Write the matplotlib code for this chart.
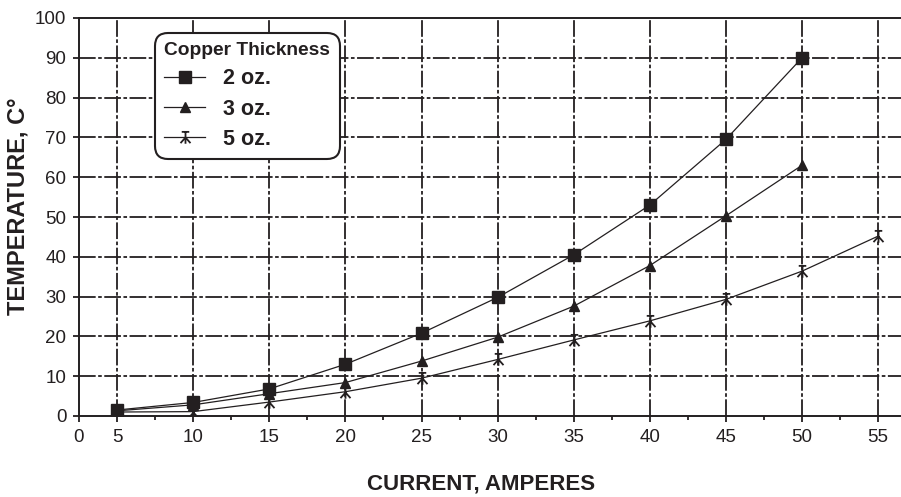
import matplotlib
matplotlib.use("Agg")
import matplotlib.pyplot as plt
from matplotlib.path import Path
import numpy as np

plt.rcParams['font.family'] = ['Liberation Sans', 'DejaVu Sans']
plt.rcParams['lines.scale_dashes'] = False

# Data
current = [5, 10, 15, 20, 25, 30, 35, 40, 45, 50, 55]
temp_2oz = [1.5, 3.4, 6.8, 13.0, 20.8, 29.8, 40.5, 53.0, 69.5, 90.0]
temp_3oz = [1.3, 2.8, 5.6, 8.4, 13.8, 19.8, 27.6, 37.8, 50.3, 63.0]
temp_5oz = [1.0, 1.1, 3.5, 6.1, 9.5, 14.2, 19.1, 23.9, 29.3, 36.4, 45.2]
series_labels = ["2 oz.", "3 oz.", "5 oz."]
legend_title = "Copper Thickness"
x_tick_vals = [2.5, 5, 10, 15, 20, 25, 30, 35, 40, 45, 50, 55]
x_tick_labels = ["0", "5", "10", "15", "20", "25", "30", "35", "40", "45", "50", "55"]
y_tick_vals = [0, 10, 20, 30, 40, 50, 60, 70, 80, 90, 100]
xlabel = "CURRENT, AMPERES"
ylabel = "TEMPERATURE, C°"

W, H = 901, 497
fig = plt.figure(figsize=(W / 100, H / 100), dpi=100)
ax = fig.add_axes([79 / W, 1 - 416 / H, (W - 79) / W, (416 - 18) / H])

ink = '#231f20'

# custom marker for 5 oz (bar on top, stem, legs)
star_verts = [(-0.6, 0.9), (0.6, 0.9), (0, 0.9), (0, -1.0), (0, 0), (-0.8, -0.9), (0, 0), (0.8, -0.9)]
star_codes = [Path.MOVETO, Path.LINETO, Path.MOVETO, Path.LINETO, Path.MOVETO, Path.LINETO, Path.MOVETO, Path.LINETO]
star_marker = Path(star_verts, star_codes)

ax.plot(current[:len(temp_2oz)], temp_2oz, color=ink, lw=0.9, marker='s', ms=8,
        mfc=ink, mec=ink, label=series_labels[0], zorder=5)
ax.plot(current[:len(temp_3oz)], temp_3oz, color=ink, lw=0.9, marker='^', ms=7.5,
        mfc=ink, mec=ink, label=series_labels[1], zorder=5)
ax.plot(current[:len(temp_5oz)], temp_5oz, color=ink, lw=0.9, marker=star_marker, ms=9,
        mfc='none', mec=ink, mew=1.3, label=series_labels[2], zorder=5)

ax.set_xlim(2.5, 56.5)
ax.set_ylim(0, 100)

ax.set_xticks(x_tick_vals)
ax.set_xticklabels(x_tick_labels)
ax.set_xticks([7.5 + 5 * i for i in range(10)], minor=True)
ax.set_yticks(y_tick_vals)

ax.tick_params(axis='both', which='major', labelsize=13.5, colors=ink, direction='out',
               length=4, width=1.3, pad=5)
ax.tick_params(axis='x', which='minor', direction='out', length=3, width=1.3, colors=ink)

for s in ['left', 'bottom', 'top']:
    ax.spines[s].set_color(ink)
    ax.spines[s].set_linewidth(1.4)
ax.spines['right'].set_visible(False)

dash = (0, (12, 1.8, 2.6, 1.8))
for x in x_tick_vals[1:]:
    ax.axvline(x, color=ink, lw=1.3, linestyle=dash, zorder=1)
for y in y_tick_vals[1:-1]:
    ax.axhline(y, color=ink, lw=1.3, linestyle=dash, zorder=1)

fig.text(18 / W, 1 - 206 / H, ylabel, rotation=90, ha='center', va='center',
         fontsize=17, fontweight='bold', color=ink)
fig.text(481 / W, 1 - 484 / H, xlabel, ha='center', va='center',
         fontsize=16, fontweight='bold', color=ink)

leg = ax.legend(loc='upper left', bbox_to_anchor=(158 / W, 1 - 36 / H),
                bbox_transform=fig.transFigure, title=legend_title,
                prop={'weight': 'bold', 'size': 15.5},
                title_fontproperties={'weight': 'bold', 'size': 13.8},
                handlelength=1.9, handletextpad=0.8, labelspacing=0.42,
                borderpad=0.3, borderaxespad=0, fancybox=True, framealpha=1,
                edgecolor=ink)
leg._legend_box.align = 'left'
leg.get_frame().set_linewidth(1.5)
leg.get_frame().set_boxstyle('round', pad=0.15, rounding_size=0.6)
for t in leg.get_texts():
    t.set_color(ink)
leg.get_title().set_color(ink)
leg.set_zorder(10)

fig.savefig('out.png', dpi=100, facecolor='white')
